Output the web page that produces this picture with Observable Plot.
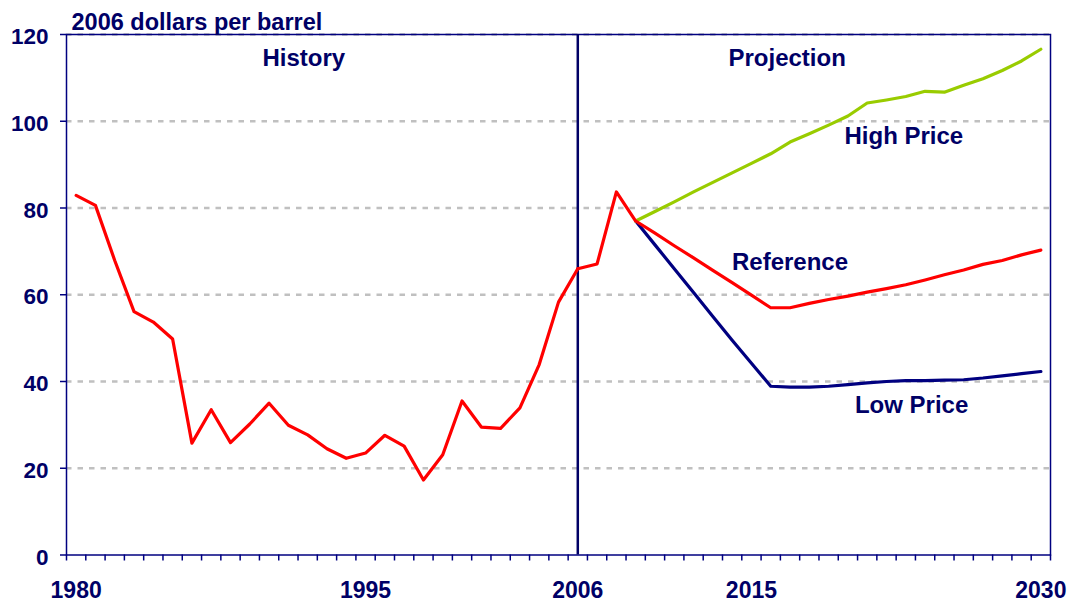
<!DOCTYPE html>
<html>
<head>
<meta charset="utf-8">
<script src="https://cdn.jsdelivr.net/npm/d3@7"></script>
<script src="https://cdn.jsdelivr.net/npm/@observablehq/plot@0.6"></script>
<style>
  html, body { margin: 0; padding: 0; background: #ffffff; }
  #chart svg { display: block; }
</style>
</head>
<body>
<div id="chart"></div>
<script>
// ---- Data ----
const historyYears = [1980,1981,1982,1983,1984,1985,1986,1987,1988,1989,1990,1991,1992,1993,1994,1995,1996,1997,1998,1999,2000,2001,2002,2003,2004,2005,2006];
const historyPrice = [82.9,80.6,67.9,56.1,53.7,49.8,25.8,33.5,25.9,30.2,35.0,29.9,27.7,24.5,22.3,23.5,27.6,25.1,17.3,23.1,35.5,29.5,29.2,33.9,43.9,58.3,66.0];

const referenceYears = [2006,2007,2008,2009,2010,2011,2012,2013,2014,2015,2016,2017,2018,2019,2020,2021,2022,2023,2024,2025,2026,2027,2028,2029,2030];
const referencePrice = [66.0,67.1,83.7,77.0,74.2,71.3,68.5,65.6,62.8,59.9,57.0,57.0,58.0,58.9,59.7,60.6,61.4,62.3,63.4,64.6,65.7,67.0,67.9,69.2,70.3];

const caseYears = [2009,2010,2011,2012,2013,2014,2015,2016,2017,2018,2019,2020,2021,2022,2023,2024,2025,2026,2027,2028,2029,2030];
const highPrice = [77.0,79.2,81.4,83.7,85.9,88.1,90.3,92.5,95.2,97.1,99.1,101.2,104.2,104.9,105.7,106.9,106.7,108.3,109.8,111.7,113.9,116.6];
const lowPrice  = [77.0,71.5,66.0,60.5,55.0,49.5,44.2,38.9,38.7,38.7,38.9,39.3,39.7,40.0,40.2,40.2,40.3,40.4,40.8,41.3,41.8,42.3];

const xTickLabels = [1980, 1995, 2006, 2015, 2030];
const yTicks = [0, 20, 40, 60, 80, 100, 120];
const dividerYear = [2006];

const labelText = ["History", "Projection", "High Price", "Reference", "Low Price"];
const labelYear = [1991.8, 2016.85, 2022.9, 2017.0, 2023.3];
const labelValue = [114.4, 114.4, 96.5, 67.4, 34.6];

const titleText = "2006 dollars per barrel";

// ---- Tables built from the arrays ----
const toRows = (xs, ys) => xs.map((year, i) => ({year, price: ys[i]}));
const history = toRows(historyYears, historyPrice);
const reference = toRows(referenceYears, referencePrice);
const high = toRows(caseYears, highPrice);
const low = toRows(caseYears, lowPrice);
const labels = labelText.map((t, i) => ({t, year: labelYear[i], price: labelValue[i]}));
const allYears = d3.range(historyYears[0], referenceYears[referenceYears.length - 1] + 1);
const boundaries = allYears.map(y => y - 0.5).concat([allYears[allYears.length - 1] + 0.5]);

const navy = "#000066";
const axisNavy = "#000080";
const font = "'Liberation Sans', Arial, Helvetica, sans-serif";

const chart = Plot.plot({
  width: 1073,
  height: 602,
  marginLeft: 66,
  marginRight: 23,
  marginTop: 34,
  marginBottom: 47.5,
  style: {fontFamily: font, fontWeight: "bold", background: "#ffffff", overflow: "visible"},
  x: {type: "linear", domain: [allYears[0] - 0.5, allYears[allYears.length - 1] + 0.5]},
  y: {type: "linear", domain: [0, 120]},
  marks: [
    Plot.ruleY(yTicks.filter(v => v > 0), {stroke: "#c0c0c0", strokeWidth: 2.5, strokeDasharray: "5.5,6"}),
    Plot.frame({stroke: axisNavy, strokeWidth: 1.5}),
    Plot.axisY({ticks: yTicks, tickSize: 6, stroke: axisNavy, strokeWidth: 1.5, tickFormat: () => "", label: null}),
    Plot.axisY({ticks: yTicks, tickSize: 0, tickPadding: 18, fill: navy, fontSize: 22.5, fontWeight: "bold",
                label: null, tickFormat: d => String(d), dy: 2.5}),
    Plot.axisX({ticks: boundaries, tickSize: 6, stroke: axisNavy, strokeWidth: 1.5, tickFormat: () => "", label: null}),
    Plot.axisX({ticks: xTickLabels, tickSize: 0, tickPadding: 27, fill: navy, fontSize: 23, fontWeight: "bold",
                tickFormat: d => String(d), label: null}),
    Plot.ruleX(dividerYear, {stroke: navy, strokeWidth: 2.5}),
    Plot.line(low, {x: "year", y: "price", stroke: "#000080", strokeWidth: 3.2, strokeLinejoin: "round", strokeLinecap: "round"}),
    Plot.line(high, {x: "year", y: "price", stroke: "#99cc00", strokeWidth: 3.2, strokeLinejoin: "round", strokeLinecap: "round"}),
    Plot.line(reference, {x: "year", y: "price", stroke: "#ff0000", strokeWidth: 3.2, strokeLinejoin: "round", strokeLinecap: "round"}),
    Plot.line(history, {x: "year", y: "price", stroke: "#ff0000", strokeWidth: 3.2, strokeLinejoin: "round", strokeLinecap: "round"}),
    Plot.text(labels, {x: "year", y: "price", text: "t", fill: navy, fontSize: 24, fontWeight: "bold", textAnchor: "middle"}),
    Plot.text([titleText], {frameAnchor: "top-left", dx: 5, dy: -5, lineAnchor: "bottom", textAnchor: "start",
                            fill: navy, fontSize: 23.5, fontWeight: "bold"})
  ]
});
document.getElementById("chart").appendChild(chart);
</script>
</body>
</html>
